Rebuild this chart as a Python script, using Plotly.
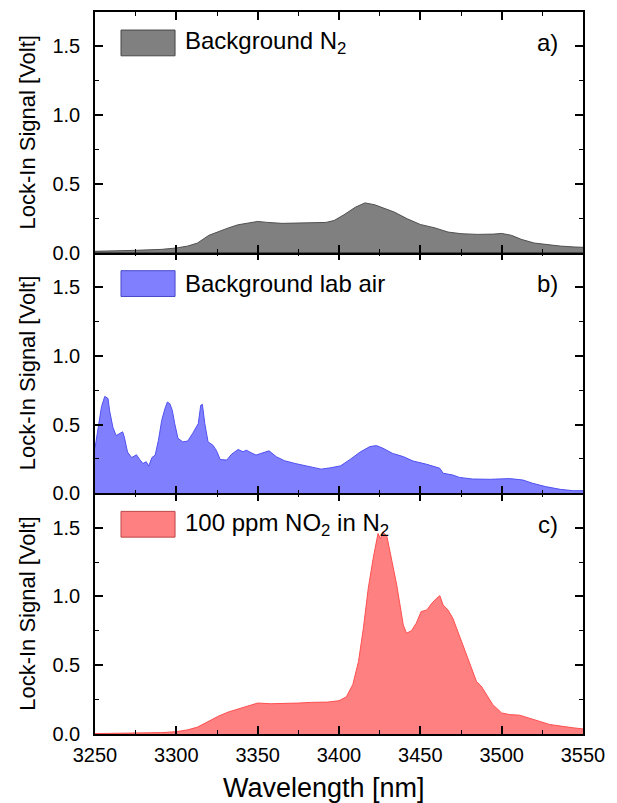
import plotly.graph_objects as go

# ---------------- data ----------------
wl_a = [3250, 3262, 3275, 3291, 3300, 3307, 3313, 3320, 3326, 3332,
        3338, 3344, 3350, 3356, 3365, 3373, 3383, 3392, 3397, 3403,
        3410, 3416, 3422, 3428, 3434, 3442, 3450, 3459, 3467, 3475,
        3485, 3495, 3500, 3506, 3512, 3520, 3528, 3536, 3545, 3550]
sig_a = [0.01, 0.012, 0.017, 0.024, 0.034, 0.048, 0.07, 0.126, 0.155, 0.18,
         0.203, 0.215, 0.227, 0.22, 0.213, 0.215, 0.217, 0.22, 0.234, 0.275,
         0.33, 0.362, 0.348, 0.324, 0.295, 0.246, 0.205, 0.18, 0.15, 0.138,
         0.133, 0.135, 0.14, 0.126, 0.097, 0.07, 0.058, 0.048, 0.041, 0.039]

wl_b = [3250, 3252, 3254, 3256, 3258, 3259, 3261, 3263, 3265, 3267,
        3268, 3270, 3272.5, 3275.5, 3277.5, 3279.5, 3281.5, 3283, 3285, 3287,
        3289, 3291, 3293, 3294.5, 3296, 3297.5, 3299, 3301, 3304, 3307,
        3310, 3313.5, 3315, 3316, 3317.5, 3319.5, 3322.5, 3324.5, 3327, 3331,
        3334, 3338, 3341, 3343, 3346, 3349, 3352, 3357, 3361.5, 3366.5,
        3373, 3379, 3385, 3389, 3395, 3401, 3407, 3413, 3419, 3423,
        3427, 3433, 3439.5, 3445.5, 3454, 3462, 3464, 3470, 3474, 3482,
        3493, 3505, 3513, 3519, 3527, 3536, 3544, 3550]
sig_b = [0.33, 0.48, 0.63, 0.705, 0.69, 0.60, 0.48, 0.42, 0.435, 0.447,
         0.41, 0.30, 0.26, 0.28, 0.246, 0.217, 0.23, 0.198, 0.26, 0.278,
         0.386, 0.53, 0.616, 0.664, 0.652, 0.604, 0.507, 0.40, 0.374, 0.38,
         0.435, 0.507, 0.64, 0.647, 0.507, 0.374, 0.35, 0.314, 0.246, 0.242,
         0.285, 0.319, 0.302, 0.314, 0.295, 0.278, 0.29, 0.309, 0.266, 0.237,
         0.217, 0.2, 0.188, 0.176, 0.186, 0.2, 0.248, 0.3, 0.34, 0.347,
         0.328, 0.29, 0.267, 0.235, 0.211, 0.182, 0.146, 0.133, 0.116, 0.104,
         0.102, 0.107, 0.097, 0.073, 0.049, 0.029, 0.019, 0.019]

wl_c = [3250, 3275, 3291, 3300, 3307, 3313, 3319.5, 3326, 3332, 3338,
        3344, 3350, 3358, 3367, 3375, 3383, 3393, 3400, 3404.5, 3408.5,
        3412, 3415, 3418, 3421, 3424, 3425.5, 3427, 3429.5, 3432.5, 3435.5,
        3437.5, 3439.5, 3441.5, 3444.5, 3447.5, 3450.5, 3454, 3457, 3460, 3462,
        3464, 3467, 3470, 3473, 3476, 3480.5, 3484.5, 3487.5, 3490.5, 3494.5,
        3500, 3505, 3511, 3517, 3523, 3529.5, 3535.5, 3544, 3550]
sig_c = [0.003, 0.005, 0.01, 0.017, 0.03, 0.05, 0.09, 0.13, 0.16, 0.18,
         0.205, 0.225, 0.22, 0.22, 0.225, 0.23, 0.232, 0.242, 0.27, 0.36,
         0.528, 0.77, 1.06, 1.277, 1.458, 1.42, 1.47, 1.434, 1.265, 1.083,
         0.938, 0.793, 0.733, 0.75, 0.806, 0.89, 0.902, 0.95, 0.987, 1.006,
         0.938, 0.902, 0.842, 0.745, 0.649, 0.504, 0.383, 0.347, 0.286, 0.214,
         0.153, 0.141, 0.137, 0.117, 0.093, 0.069, 0.057, 0.045, 0.037]

labels = ["Background N<sub>2</sub>", "Background lab air",
          "100 ppm NO<sub>2</sub> in N<sub>2</sub>"]
letters = ["a)", "b)", "c)"]
x_ticks = [3250, 3300, 3350, 3400, 3450, 3500, 3550]
y_ticks = [0.0, 0.5, 1.0, 1.5]
x_title = "Wavelength [nm]"
y_title = "Lock-In Signal [Volt]"

# ---------------- styling ----------------
FONT = "Liberation Sans, Arial, sans-serif"
fills = ["rgb(128,128,128)", "rgb(128,128,255)", "rgb(255,128,128)"]
edges = ["rgb(80,80,80)", "rgb(80,80,240)", "rgb(255,80,80)"]
box_edges = ["rgb(70,70,70)", "rgb(70,70,200)", "rgb(190,70,70)"]

series = [(wl_a, sig_a), (wl_b, sig_b), (wl_c, sig_c)]
# panel a on top (y3), b middle (y2), c bottom (y)
axis_ids = ["3", "2", ""]
domains = [[2/3, 1.0], [1/3, 2/3], [0.0, 1/3]]

fig = go.Figure()
for i, (wl, sig) in enumerate(series):
    fig.add_trace(go.Scatter(
        x=wl, y=sig, mode="lines", fill="tozeroy",
        fillcolor=fills[i], line=dict(color=edges[i], width=1),
        xaxis="x" + axis_ids[i], yaxis="y" + axis_ids[i],
        hoverinfo="skip", showlegend=False))

common_x = dict(range=[3250, 3550], showline=True, linecolor="black", linewidth=1.5,
                mirror="ticks", ticks="inside", ticklen=8, tickwidth=1.5, tickcolor="black",
                tickvals=x_ticks, showgrid=False, zeroline=False,
                minor=dict(ticks="inside", ticklen=4, tickwidth=1.2, tickcolor="black",
                           dtick=25, tick0=3250, showgrid=False),
                tickfont=dict(family=FONT, size=20, color="black"))
common_y = dict(range=[0, 1.75], showline=True, linecolor="black", linewidth=1.5,
                mirror="ticks", ticks="inside", ticklen=8, tickwidth=1.5, tickcolor="black",
                tickvals=y_ticks, tickformat=".1f", showgrid=False, zeroline=False,
                minor=dict(ticks="inside", ticklen=4, tickwidth=1.2, tickcolor="black",
                           dtick=0.25, tick0=0, showgrid=False),
                tickfont=dict(family=FONT, size=20, color="black"),
                ticklabelstandoff=9)

layout = dict(width=617, height=803, margin=dict(l=95, r=34, t=10, b=69),
              plot_bgcolor="white", paper_bgcolor="white", showlegend=False,
              font=dict(family=FONT, color="black"))
for i, aid in enumerate(axis_ids):
    xa = dict(common_x, anchor="y" + aid, domain=[0, 1])
    if aid != "":
        xa["matches"] = "x"
        xa["showticklabels"] = False
    else:
        xa["ticklabelstandoff"] = 2
    layout["xaxis" + aid] = xa
    layout["yaxis" + aid] = dict(common_y, anchor="x" + aid, domain=domains[i])
fig.update_layout(**layout)

# legend boxes, labels, panel letters, y titles
for i, aid in enumerate(axis_ids):
    xr = "x" + aid + " domain" if aid else "x domain"
    yr = "y" + aid + " domain" if aid else "y domain"
    fig.add_shape(type="rect", xref=xr, yref=yr, x0=0.0533, x1=0.164,
                  y0=0.818, y1=0.925, fillcolor=fills[i],
                  line=dict(color=box_edges[i], width=1))
    fig.add_annotation(xref=xr, yref=yr, x=0.18, y=0.872, xanchor="left",
                       yanchor="middle", text=labels[i], showarrow=False,
                       font=dict(family=FONT, size=24, color="black"))
    fig.add_annotation(xref=xr, yref=yr, x=0.953, y=0.872, xanchor="right",
                       yanchor="middle", text=letters[i], showarrow=False,
                       font=dict(family=FONT, size=24, color="black"))
    fig.add_annotation(xref=xr, yref=yr, x=-0.139, y=0.5, xanchor="center",
                       yanchor="middle", text=y_title, textangle=-90, showarrow=False,
                       font=dict(family=FONT, size=22, color="black"))

fig.add_annotation(xref="paper", yref="paper", x=0.47, y=-0.075, xanchor="center",
                   yanchor="middle", text=x_title, showarrow=False,
                   font=dict(family=FONT, size=27, color="black"))

fig.write_html("out.html", config={"displayModeBar": False},
               post_script="document.body.style.margin='0px';"
                           "document.body.style.overflow='hidden';")
